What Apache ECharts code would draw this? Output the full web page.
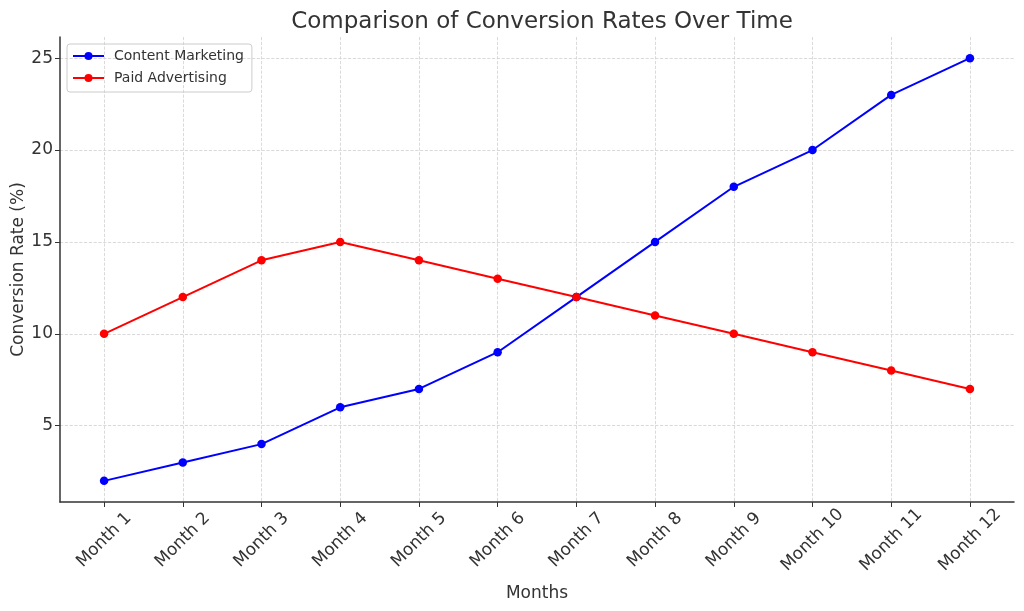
<!DOCTYPE html>
<html>
<head>
<meta charset="utf-8">
<script src="https://cdn.jsdelivr.net/npm/echarts@6/dist/echarts.min.js"></script>
<style>
  html, body { margin: 0; padding: 0; background: #fff; }
  #container { width: 1024px; height: 611px; }
</style>
</head>
<body>
<div id="container"></div>
<script>
var months = ['Month 1', 'Month 2', 'Month 3', 'Month 4', 'Month 5', 'Month 6',
  'Month 7', 'Month 8', 'Month 9', 'Month 10', 'Month 11', 'Month 12'];
var contentMarketing = [2, 3, 4, 6, 7, 9, 12, 15, 18, 20, 23, 25];
var paidAdvertising = [10, 12, 14, 15, 14, 13, 12, 11, 10, 9, 8, 7];
var yTicks = [5, 10, 15, 20, 25];

var dom = document.getElementById('container');
var myChart = echarts.init(dom);

// months sit at positions 1..12 on a value axis so the margins match
var xTicks = months.map(function (m, i) { return i + 1; });
var toPoints = function (vals) {
  return vals.map(function (v, i) { return [i + 1, v]; });
};

var fontFamily = 'DejaVu Sans';
var textColor = '#333';

var option = {
  animation: false,
  textStyle: { fontFamily: fontFamily },
  title: {
    text: 'Comparison of Conversion Rates Over Time',
    left: 537,
    textAlign: 'center',
    top: 6,
    textStyle: { fontFamily: fontFamily, fontSize: 23, fontWeight: 'normal', color: textColor }
  },
  legend: {
    left: 67,
    top: 44,
    orient: 'vertical',
    itemGap: 8,
    itemWidth: 31,
    itemHeight: 10,
    padding: [5, 8, 7, 5],
    borderColor: '#ccc',
    borderWidth: 1,
    borderRadius: 3,
    textStyle: { fontFamily: fontFamily, fontSize: 14, color: textColor, padding: [0, 0, 0, 5] },
    data: ['Content Marketing', 'Paid Advertising']
  },
  grid: { left: 60, right: 10, top: 37, bottom: 109, containLabel: false, outerBoundsMode: 'none' },
  xAxis: {
    type: 'value',
    min: 0.44,
    max: 12.56,
    name: 'Months',
    nameLocation: 'middle',
    nameGap: 83,
    nameMoveOverlap: false,
    nameTextStyle: { fontFamily: fontFamily, fontSize: 17, color: textColor },
    axisLine: { show: true, lineStyle: { color: '#333', width: 1.5 } },
    axisTick: { show: true, customValues: xTicks, length: 5, lineStyle: { color: '#333' } },
    axisLabel: {
      customValues: xTicks,
      rotate: 45,
      align: 'center',
      verticalAlign: 'middle',
      margin: 38,
      fontFamily: fontFamily,
      fontSize: 17,
      color: textColor,
      formatter: function (v) { return months[Math.round(v) - 1]; }
    },
    splitLine: { show: true, lineStyle: { color: '#d0d0d0', type: 'dashed', width: 0.8 } }
  },
  yAxis: {
    type: 'value',
    min: 0.85,
    max: 26.15,
    name: 'Conversion Rate (%)',
    nameLocation: 'middle',
    nameGap: 33,
    nameMoveOverlap: false,
    nameTextStyle: { fontFamily: fontFamily, fontSize: 17, color: textColor },
    axisLine: { show: true, lineStyle: { color: '#333', width: 1.5 } },
    axisTick: { show: true, customValues: yTicks, length: 5, lineStyle: { color: '#333' } },
    axisLabel: {
      customValues: yTicks,
      margin: 7,
      fontFamily: fontFamily,
      fontSize: 17,
      color: textColor
    },
    splitLine: { show: true, lineStyle: { color: '#d0d0d0', type: 'dashed', width: 0.8 } }
  },
  series: [{
    name: 'Content Marketing',
    type: 'line',
    data: toPoints(contentMarketing),
    symbol: 'circle',
    symbolSize: 8.5,
    color: '#0000ff',
    lineStyle: { width: 2, color: '#0000ff' },
    itemStyle: { color: '#0000ff' }
  }, {
    name: 'Paid Advertising',
    type: 'line',
    data: toPoints(paidAdvertising),
    symbol: 'circle',
    symbolSize: 8.5,
    color: '#ff0000',
    lineStyle: { width: 2, color: '#ff0000' },
    itemStyle: { color: '#ff0000' }
  }]
};

myChart.setOption(option);
</script>
</body>
</html>
